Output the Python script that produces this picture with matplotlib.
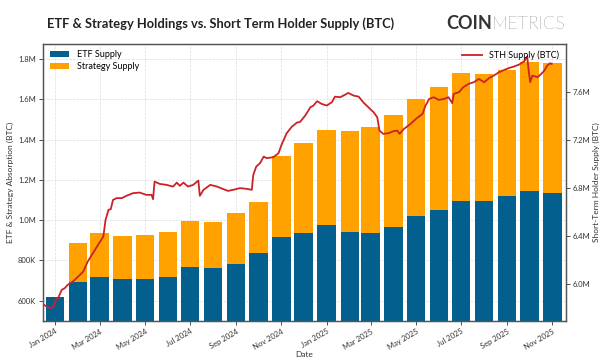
import matplotlib
matplotlib.use('Agg')
import matplotlib.pyplot as plt
import matplotlib.dates as mdates
from matplotlib.ticker import FuncFormatter, FixedLocator
import pandas as pd

plt.rcParams['font.family'] = ['Lato', 'DejaVu Sans']

# monthly holdings (BTC)
months = pd.date_range('2024-01-01', '2025-11-01', freq='MS')
etf_supply = [621e3, 693e3, 720e3, 708e3, 709e3, 716e3, 769e3, 765e3, 783e3, 838e3,
              914e3, 936e3, 975e3, 942e3, 934e3, 966e3, 1023e3, 1053e3, 1097e3,
              1096e3, 1121e3, 1144e3, 1137e3]
strategy_supply = [0, 193e3, 216e3, 213e3, 215e3, 226e3, 228e3, 226e3, 253e3, 253e3,
                   403e3, 446e3, 473e3, 501e3, 529e3, 555e3, 580e3, 608e3, 632e3,
                   631e3, 623e3, 643e3, 645e3]

# short term holder supply (millions of BTC)
sth_dates = ['2023-12-17', '2023-12-25', '2023-12-30', '2024-01-02', '2024-01-05',
             '2024-01-10', '2024-01-14', '2024-01-18', '2024-01-25', '2024-02-01',
             '2024-02-08', '2024-02-14', '2024-02-21', '2024-02-28', '2024-03-06',
             '2024-03-09', '2024-03-13', '2024-03-16', '2024-03-19', '2024-03-24',
             '2024-03-31', '2024-04-06', '2024-04-15', '2024-04-24', '2024-05-03',
             '2024-05-10', '2024-05-12', '2024-05-14', '2024-05-21', '2024-05-30',
             '2024-06-08', '2024-06-13', '2024-06-17', '2024-06-22', '2024-06-28',
             '2024-07-05', '2024-07-12', '2024-07-14', '2024-07-19', '2024-07-28',
             '2024-08-06', '2024-08-15', '2024-08-21', '2024-08-28', '2024-09-06',
             '2024-09-15', '2024-09-22', '2024-09-24', '2024-09-28', '2024-10-03',
             '2024-10-08', '2024-10-12', '2024-10-21', '2024-10-28', '2024-11-01',
             '2024-11-08', '2024-11-15', '2024-11-22', '2024-11-26', '2024-12-03',
             '2024-12-10', '2024-12-14', '2024-12-19', '2024-12-25', '2025-01-01',
             '2025-01-08', '2025-01-12', '2025-01-19', '2025-01-26', '2025-01-30',
             '2025-02-06', '2025-02-13', '2025-02-19', '2025-02-26', '2025-03-05',
             '2025-03-10', '2025-03-13', '2025-03-18', '2025-03-25', '2025-04-01',
             '2025-04-06', '2025-04-09', '2025-04-15', '2025-04-24', '2025-05-01',
             '2025-05-10', '2025-05-14', '2025-05-19', '2025-05-25', '2025-06-01',
             '2025-06-08', '2025-06-14', '2025-06-19', '2025-06-21', '2025-06-28',
             '2025-07-04', '2025-07-11', '2025-07-18', '2025-07-25', '2025-08-01',
             '2025-08-08', '2025-08-14', '2025-08-21', '2025-08-28', '2025-09-04',
             '2025-09-10', '2025-09-17', '2025-09-24', '2025-09-28', '2025-09-30',
             '2025-10-02', '2025-10-05', '2025-10-12', '2025-10-16', '2025-10-21',
             '2025-10-25', '2025-10-29', '2025-10-31']
sth_values = [5.828, 5.801, 5.814, 5.870, 5.884, 5.953, 5.967, 5.994, 6.022, 6.063,
              6.105, 6.188, 6.258, 6.327, 6.396, 6.534, 6.618, 6.623, 6.700, 6.715,
              6.715, 6.734, 6.756, 6.761, 6.742, 6.742, 6.706, 6.852, 6.833, 6.825,
              6.811, 6.844, 6.817, 6.844, 6.811, 6.825, 6.861, 6.734, 6.784, 6.825,
              6.811, 6.789, 6.775, 6.784, 6.798, 6.792, 6.784, 6.908, 6.977, 7.005,
              7.060, 7.047, 7.055, 7.088, 7.157, 7.254, 7.309, 7.343, 7.348, 7.401,
              7.470, 7.484, 7.520, 7.498, 7.484, 7.512, 7.558, 7.553, 7.575, 7.589,
              7.567, 7.558, 7.512, 7.470, 7.429, 7.387, 7.276, 7.249, 7.254, 7.271,
              7.276, 7.249, 7.290, 7.332, 7.373, 7.415, 7.484, 7.539, 7.553, 7.531,
              7.539, 7.553, 7.504, 7.581, 7.595, 7.637, 7.664, 7.678, 7.705, 7.678,
              7.714, 7.733, 7.761, 7.780, 7.797, 7.808, 7.824, 7.852, 7.891, 7.774,
              7.678, 7.733, 7.720, 7.741, 7.774, 7.816, 7.836, 7.830]

etf_color = '#03608e'
strat_color = '#ffa200'
sth_color = '#cc2127'


def fmt_k(v, pos):
    if abs(v) >= 1e6:
        return f'{v / 1e6:.1f}M'
    return f'{v / 1e3:.0f}K'


fig = plt.figure(figsize=(6, 3.63), dpi=100)
ax = fig.add_axes([0.072, 0.116, 0.871, 0.763])

ax.bar(months, etf_supply, width=25, color=etf_color, label='ETF Supply', zorder=2)
ax.bar(months, strategy_supply, width=25, bottom=etf_supply, color=strat_color,
       label='Strategy Supply', zorder=2)
ax.set_ylim(500e3, 1.875e6)
ax.yaxis.set_major_locator(FixedLocator([6e5, 8e5, 1e6, 1.2e6, 1.4e6, 1.6e6, 1.8e6]))
ax.yaxis.set_major_formatter(FuncFormatter(fmt_k))
ax.set_ylabel('ETF & Strategy Absorption (BTC)', fontsize=6, color='#333333', labelpad=3)
ax.set_xlabel('Date', fontsize=6, color='#333333', labelpad=0)
ax.grid(True, linestyle='--', linewidth=0.5, color='#dddddd', zorder=0)
ax.set_axisbelow(True)

ax2 = ax.twinx()
ax2.plot(pd.to_datetime(sth_dates), [v * 1e6 for v in sth_values], color=sth_color,
         linewidth=1.3, label='STH Supply (BTC)', zorder=3)
ax2.set_ylim(5.695e6, 7.996e6)
ax2.yaxis.set_major_locator(FixedLocator([6.0e6, 6.4e6, 6.8e6, 7.2e6, 7.6e6]))
ax2.yaxis.set_major_formatter(FuncFormatter(fmt_k))
ax2.set_ylabel('Short-Term Holder Supply (BTC)', fontsize=6, color='#333333', labelpad=2)

ax.set_xlim(pd.Timestamp('2023-12-16'), pd.Timestamp('2025-11-19'))
ax.xaxis.set_major_locator(mdates.MonthLocator(bymonth=[1, 3, 5, 7, 9, 11]))
ax.xaxis.set_major_formatter(mdates.DateFormatter('%b %Y'))
for lab in ax.get_xticklabels():
    lab.set_rotation(30)
    lab.set_ha('right')
    lab.set_rotation_mode('anchor')

for a in (ax, ax2):
    a.tick_params(labelsize=5.5, length=3, width=0.6, colors='#333333', pad=2)
    for sp in a.spines.values():
        sp.set_color('#555555')
        sp.set_linewidth(0.9)

ax.legend(loc='upper left', frameon=False, fontsize=6.5, handlelength=2.2,
          handleheight=0.6, borderaxespad=0.3, labelspacing=0.3)
ax2.legend(loc='upper right', frameon=False, fontsize=6.5, handlelength=2.2,
           borderaxespad=0.3)

fig.text(0.078, 0.934, 'ETF & Strategy Holdings vs. Short Term Holder Supply (BTC)',
         fontsize=9.3, fontweight='bold', va='center', color='#222222')
fig.canvas.draw()
t2 = fig.text(0.943, 0.934, 'METRICS', fontsize=13, fontweight='light',
              va='center', ha='right', color='#333333')
bb = t2.get_window_extent(fig.canvas.get_renderer())
fig.text(bb.x0 / fig.bbox.width, 0.934, 'COIN', fontsize=13, fontweight='bold',
         va='center', ha='right', color='#333333')

fig.savefig('out.png', dpi=100)
